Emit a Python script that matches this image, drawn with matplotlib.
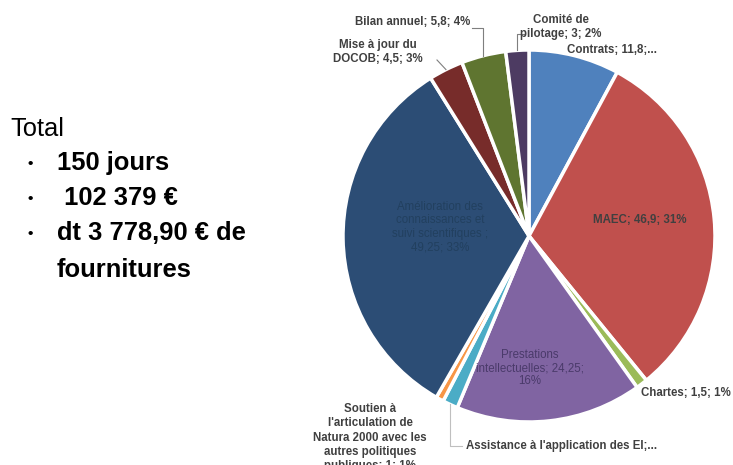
import numpy as np
import matplotlib
matplotlib.use("Agg")
import matplotlib.pyplot as plt
from matplotlib.lines import Line2D

categories = ["Contrats", "MAEC", "Chartes", "Prestations intellectuelles",
              "Assistance à l'application des EI",
              "Soutien à l'articulation de Natura 2000 avec les autres politiques publiques",
              "Amélioration des connaissances et suivi scientifiques",
              "Mise à jour du DOCOB", "Bilan annuel", "Comité de pilotage"]
jours = [11.8, 46.9, 1.5, 24.25, 2, 1, 49.25, 4.5, 5.8, 3]
colors = ["#4F81BD", "#C0504D", "#9BBB59", "#8064A2", "#4BACC6", "#F79646",
          "#2C4D75", "#772C2A", "#5F7530", "#4D3B62"]
summary_title = "Total"
summary_items = ["150 jours", " 102 379 €", "dt 3 778,90 € de\nfournitures"]

W, H = 733, 465
plt.rcParams['font.family'] = ['Liberation Sans', 'DejaVu Sans']
fig = plt.figure(figsize=(W / 100, H / 100), dpi=100)

cx, cy, R = 529, 236, 186
ax = fig.add_axes([(cx - R) / W, (H - cy - R) / H, 2 * R / W, 2 * R / H])
wedges, _ = ax.pie(jours, colors=colors, startangle=90, counterclock=False,
                   wedgeprops=dict(edgecolor="white", linewidth=2.5))
ax.set_xlim(-1, 1)
ax.set_ylim(-1, 1)
ax.set_aspect("equal")
ax.axis("off")

def fx(px):
    return px / W

def fy(py):
    return 1 - py / H

def wedge_px(i, r=1.0):
    w = wedges[i]
    ang = np.deg2rad((w.theta1 + w.theta2) / 2)
    return cx + r * R * np.cos(ang), cy - r * R * np.sin(ang)

def line(pts, color="#7f7f7f"):
    xs = [fx(p[0]) for p in pts]
    ys = [fy(p[1]) for p in pts]
    fig.add_artist(Line2D(xs, ys, color=color, lw=0.8, transform=fig.transFigure))

FS = 8.3
lab = dict(fontsize=FS, fontweight="bold", color="#404040")

# inside labels
fig.text(fx(640), fy(220), "MAEC; 46,9; 31%", ha="center", va="center", **lab)
fig.text(fx(530), fy(368), "Prestations\nintellectuelles; 24,25;\n16%", ha="center",
         va="center", fontsize=FS, color="#4a3a6a", linespacing=1.15)
fig.text(fx(440), fy(227), "Amélioration des\nconnaissances et\nsuivi scientifiques ;\n49,25; 33%",
         ha="center", va="center", fontsize=FS, color="#22405f", linespacing=1.15)

# outside labels
fig.text(fx(470), fy(22), "Bilan annuel; 5,8; 4%", ha="right", va="center", **lab)
bx, by = wedge_px(8)
line([(472, 28), (bx, 28), (bx, by)])

fig.text(fx(561), fy(27), "Comité de\npilotage; 3; 2%", ha="center", va="center",
         linespacing=1.2, **lab)
kx, ky = wedge_px(9)
line([(524, 34), (kx, 34), (kx, ky)])

fig.text(fx(567), fy(50), "Contrats; 11,8;...", ha="left", va="center", **lab)

fig.text(fx(378), fy(52), "Mise à jour du\nDOCOB; 4,5; 3%", ha="center", va="center",
         linespacing=1.2, **lab)
mx, my = wedge_px(7)
line([(437, 60), (mx, my)])

fig.text(fx(641), fy(393), "Chartes; 1,5; 1%", ha="left", va="center", **lab)

ax_x, ax_y = wedge_px(4)
fig.text(fx(466), fy(446), "Assistance à l'application des EI;...", ha="left", va="center", **lab)
line([(ax_x, ax_y), (ax_x, 446), (462, 446)], color="#bfbfbf")

fig.text(fx(370), fy(403), "Soutien à\nl'articulation de\nNatura 2000 avec les\nautres politiques\npubliques; 1; 1%",
         ha="center", va="top", linespacing=1.25, **lab)

# summary text
fig.text(fx(10), fy(129), summary_title, ha="left", va="center", fontsize=18.4, color="black")
ys = [163, 198, 233]
for y, item in zip(ys, summary_items):
    fig.text(fx(30.5), fy(y + 1), "•", ha="center", va="center", fontsize=11,
             fontweight="bold", color="black")
    fig.text(fx(57), fy(y - 12), item, ha="left", va="top", fontsize=18.4,
             fontweight="bold", color="black", linespacing=1.68)

fig.savefig("out.png", dpi=100)
